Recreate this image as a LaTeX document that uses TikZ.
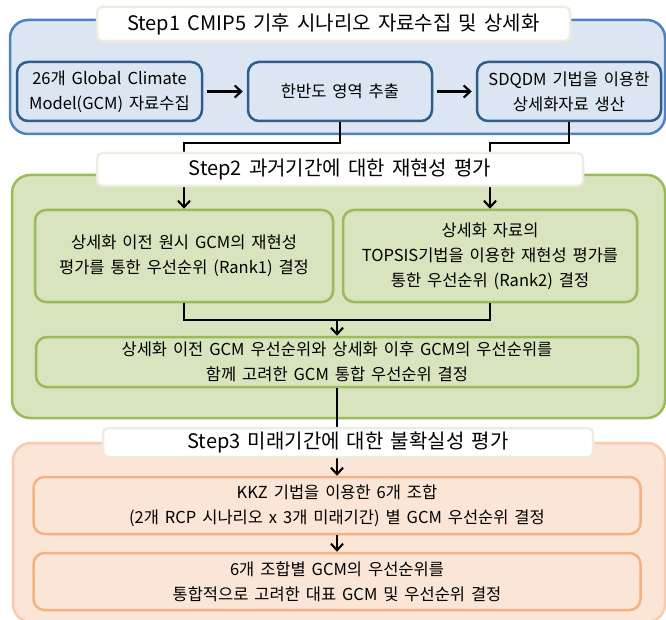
\documentclass[tikz,border=0pt]{standalone}
\usepackage{fontspec}
\setmainfont{Noto Sans CJK KR}[WordSpace=1.6]
\usetikzlibrary{arrows.meta}

\definecolor{bluefill}{HTML}{DCE6F2}
\definecolor{blueline}{HTML}{4F81BD}
\definecolor{bluebox}{HTML}{2E5E8E}
\definecolor{greenfill}{HTML}{D7E4BD}
\definecolor{greenline}{HTML}{9BBB59}
\definecolor{orangefill}{HTML}{FBE5D6}
\definecolor{orangeline}{HTML}{F8CBAD}
\definecolor{orangebox}{HTML}{F4B183}
\definecolor{titleline}{HTML}{EEECE1}

\begin{document}
\begin{tikzpicture}[x=1pt,y=-1pt,
	outer/.style={line width=2.5pt,rounded corners=18pt,inner sep=0pt},
	box/.style={line width=2.5pt,rounded corners=11pt,align=center,font=\fontsize{16.5}{25}\selectfont},
	steptitle/.style={draw=titleline,fill=white,line width=2.5pt,rounded corners=5pt,font=\fontsize{20}{22}\selectfont},
	wire/.style={line width=2.1pt},
	link/.style={wire,-{Straight Barb[length=6.5pt,width=12pt]}}]
	\useasboundingbox (0,0) rectangle (666,620);
	\clip (0,0) rectangle (666,620);
	
	% Step1
	\node[outer,draw=blueline,fill=bluefill,minimum width=655,minimum height=114] (s1) at (337.5,77) {};
	\node[box,draw=bluebox,fill=bluefill,minimum width=185,minimum height=59] (gcm) at (109.5,91.5) {26개 Global Climate\\Model(GCM) 자료수집};
	\node[box,draw=bluebox,fill=bluefill,minimum width=184,minimum height=59] (korea) at (340,91.5) {한반도 영역 추출};
	\node[box,draw=bluebox,fill=bluefill,minimum width=184,minimum height=59] (sdqdm) at (569,91.5) {SDQDM 기법을 이용한\\상세화자료 생산};
	\draw[link,shorten <=4pt,shorten >=4pt] (gcm) -- (korea);
	\draw[link,shorten <=4pt,shorten >=4pt] (korea) -- (sdqdm);
	
	% Step2
	\node[outer,draw=greenline,fill=greenfill,minimum width=653,minimum height=243] (s2) at (338.5,296.5) {};
	\node[box,draw=greenline,fill=greenfill,minimum width=298,minimum height=92] (rank1) at (184,256) {상세화 이전 원시 GCM의 재현성\\평가를 통한 우선순위 (Rank1) 결정};
	\node[box,draw=greenline,fill=greenfill,minimum width=294,minimum height=92] (rank2) at (490,256) {상세화 자료의\\TOPSIS기법을 이용한 재현성 평가를\\통한 우선순위 (Rank2) 결정};
	\node[box,draw=greenline,fill=greenfill,minimum width=602,minimum height=50] (both) at (337,362) {상세화 이전 GCM 우선순위와 상세화 이후 GCM의 우선순위를\\함께 고려한 GCM 통합 우선순위 결정};
	\draw[link] (korea.south) -- ++(0,21) -| (rank1.north);
	\draw[link] (sdqdm.south) -- ++(0,21) -| (rank2.north);
	\coordinate (join) at (337,320);
	\draw[wire] (rank1.south) |- (join) -| (rank2.south);
	\draw[link] (join) -- (both);
	
	% Step3
	\node[outer,draw=orangeline,fill=orangefill,minimum width=652,minimum height=179] (s3) at (339,532.5) {};
	\node[box,draw=orangebox,fill=orangefill,minimum width=607,minimum height=57] (kkz) at (337,505.5) {KKZ 기법을 이용한 6개 조합\\(2개 RCP 시나리오 x 3개 미래기간) 별 GCM 우선순위 결정};
	\node[box,draw=orangebox,fill=orangefill,minimum width=607,minimum height=57] (final) at (337,581.5) {6개 조합별 GCM의 우선순위를\\통합적으로 고려한 대표 GCM 및 우선순위 결정};
	\draw[link] (both) -- (kkz);
	\draw[link] (kkz) -- (final);
	
	% titles on top
	\node[steptitle,minimum width=473,minimum height=34] (t1) at (333.5,24) {Step1 CMIP5 기후 시나리오 자료수집 및 상세화};
	\node[steptitle,minimum width=486,minimum height=33] (t2) at (340,169.5) {Step2 과거기간에 대한 재현성 평가};
	\node[steptitle,minimum width=490,minimum height=29] (t3) at (348,442.5) {Step3 미래기간에 대한 불확실성 평가};
\end{tikzpicture}
\end{document}
